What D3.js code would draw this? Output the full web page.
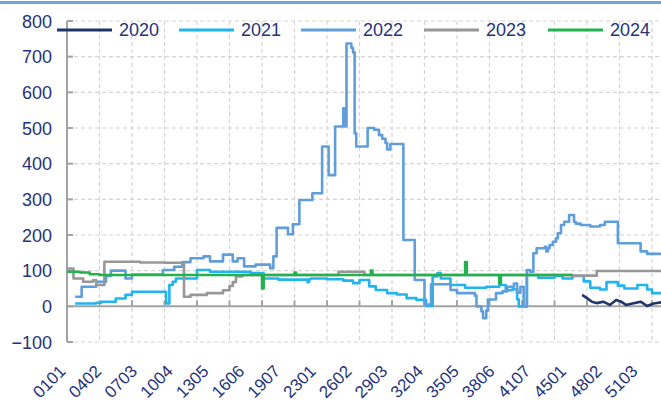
<!DOCTYPE html>
<html><head><meta charset="utf-8">
<script src="https://cdn.jsdelivr.net/npm/d3@7"></script>
<style>
body{margin:0;background:#fff}
svg{display:block}
text{font-family:"Liberation Sans",Arial,sans-serif}
</style>
</head><body>
<svg id="c" width="661" height="403"></svg>
<script>
// ---------- data ----------
const years = ["2020", "2021", "2022", "2023", "2024"];
const xLabels = ["0101","0402","0703","1004","1305","1606","1907","2301","2602","2903","3204","3505","3806","4107","4501","4802","5103"];
const yTicks = [-100, 0, 100, 200, 300, 400, 500, 600, 700, 800];

// step change points: day index (week*7+dow) and value
const days2020 = [317, 320, 323, 326, 330, 334, 338, 341, 344, 348, 353, 357, 361, 365, 370];
const vals2020 = [32, 23, 13, 9, 13, 4, 18, 13, 4, 8, 13, 1, 8, 11, 11];

const days2021 = [5, 18, 21, 30, 36, 40, 61, 63, 65, 67, 80, 88, 113, 121, 130, 148, 149, 150, 160, 170, 176, 180, 186, 190, 197, 203, 209, 215, 221, 225, 228, 230, 236, 245, 258, 266, 270, 274, 277, 278, 283, 290, 300, 305, 311, 318, 322, 328, 332, 339, 343, 351, 357, 360, 370];
const vals2021 = [8, 10, 13, 22, 32, 41, 8, 60, 69, 78, 102, 97, 93, 78, 75, 68, 76, 78, 76, 72, 65, 74, 56, 46, 37, 33, 23, 18, 1, 84, 93, 78, 60, 52, 55, 60, 45, 48, 20, 0, 88, 80, 85, 78, 85, 70, 52, 47, 68, 58, 50, 60, 47, 37, 37];

const days2022 = [5, 9, 18, 24, 27, 36, 40, 59, 66, 71, 76, 84, 88, 96, 102, 105, 109, 116, 125, 127, 129, 136, 139, 143, 151, 157, 161, 165, 170, 171, 172, 175, 176, 177, 178, 185, 189, 192, 194, 196, 197, 199, 207, 214, 220, 224, 236, 240, 251, 252, 255, 256, 258, 259, 264, 268, 271, 275, 277, 279, 281, 283, 285, 287, 289, 294, 295, 296, 297, 299, 301, 302, 304, 306, 309, 312, 313, 316, 322, 328, 331, 339, 353, 357, 370];
const vals2022 = [27, 55, 69, 85, 100, 78, 89, 102, 111, 124, 135, 140, 126, 145, 126, 135, 112, 117, 107, 140, 220, 202, 230, 298, 317, 448, 368, 504, 555, 504, 737, 725, 712, 485, 448, 500, 495, 480, 470, 458, 440, 455, 186, 74, 5, 62, 46, 37, 30, 0, -14, -33, -12, 19, 37, 42, 55, 64, 38, 55, 0, 102, 97, 149, 163, 167, 154, 163, 172, 181, 191, 205, 228, 237, 256, 237, 232, 228, 224, 228, 237, 177, 154, 147, 147];

const days2023 = [0, 4, 10, 16, 18, 23, 45, 60, 72, 76, 86, 96, 100, 102, 104, 108, 167, 183, 311, 326, 370];
const vals2023 = [106, 78, 69, 73, 60, 125, 123, 122, 27, 32, 37, 45, 57, 68, 84, 88, 97, 88, 86, 99, 99];

const days2024 = [0, 8, 14, 20, 120, 121, 140, 141, 187, 188, 245, 246, 266, 267, 311];
const vals2024 = [97, 95, 90, 88, 50, 88, 95, 88, 100, 88, 124, 88, 65, 88, 88];

// ---------- styles / layout ----------
const colors = {"2020": "#1f3468", "2021": "#22b4ee", "2022": "#5f9edb", "2023": "#979797", "2024": "#22b14c"};
const L = 67, T = 21, B = 342, pxPerDay = 1.625;
const textColor = "#25337a";
const gridColor = "#d4d4d4";
const axisColor = "#a3a3a3";

const seriesData = {
  "2020": d3.zip(days2020, vals2020),
  "2021": d3.zip(days2021, vals2021),
  "2022": d3.zip(days2022, vals2022),
  "2023": d3.zip(days2023, vals2023),
  "2024": d3.zip(days2024, vals2024)
};
const labelDays = xLabels.map(l => (+l.slice(0, 2) - 1) * 7 + (+l.slice(2) - 1));

const x = d3.scaleLinear().domain([0, 370]).range([L, L + 370 * pxPerDay]);
const y = d3.scaleLinear().domain([-100, 800]).range([B, T]);
const W = 661;

const svg = d3.select("#c");

// top border
svg.append("rect").attr("x", 0).attr("y", 1).attr("width", W).attr("height", 3).attr("fill", "#6aa5dc");

// horizontal grid
svg.append("g").selectAll("line").data(yTicks.filter(v => v !== 0)).join("line")
  .attr("x1", L).attr("x2", W).attr("y1", d => y(d)).attr("y2", d => y(d))
  .attr("stroke", gridColor).attr("stroke-width", 1.2).attr("stroke-dasharray", "4,3");

// vertical grid every 20 days
const gridDays = d3.range(20, 371, 20);
svg.append("g").selectAll("line").data(gridDays).join("line")
  .attr("x1", d => x(d)).attr("x2", d => x(d)).attr("y1", T).attr("y2", B)
  .attr("stroke", gridColor).attr("stroke-width", 1.2).attr("stroke-dasharray", "4,3");

// zero line
svg.append("line").attr("x1", L).attr("x2", W).attr("y1", y(0)).attr("y2", y(0))
  .attr("stroke", axisColor).attr("stroke-width", 2);
// x ticks (upwards)
svg.append("g").selectAll("line").data(gridDays).join("line")
  .attr("x1", d => x(d)).attr("x2", d => x(d)).attr("y1", y(0)).attr("y2", y(0) - 6)
  .attr("stroke", axisColor).attr("stroke-width", 2);

// y axis line and ticks
svg.append("line").attr("x1", L).attr("x2", L).attr("y1", T).attr("y2", B)
  .attr("stroke", axisColor).attr("stroke-width", 2);
svg.append("g").selectAll("line").data(yTicks).join("line")
  .attr("x1", L).attr("x2", L + 6).attr("y1", d => y(d)).attr("y2", d => y(d))
  .attr("stroke", axisColor).attr("stroke-width", 2);

// y labels
const yAxis = svg.append("g").attr("transform", `translate(${L},0)`)
  .call(d3.axisLeft(y).tickValues(yTicks).tickSize(0).tickPadding(15).tickFormat(d3.format("d")));
yAxis.select(".domain").remove();
yAxis.selectAll("text").attr("fill", textColor).style("font-size", "18px").attr("dy", "0.35em");

// x labels
const xAxis = svg.append("g").attr("transform", `translate(0,368)`)
  .call(d3.axisBottom(x).tickValues(labelDays).tickSize(0).tickFormat((d, i) => xLabels[i]));
xAxis.select(".domain").remove();
xAxis.selectAll("text")
  .attr("x", 0).attr("y", 0).attr("dy", "0.35em")
  .attr("text-anchor", "end")
  .attr("transform", "translate(-5,0) rotate(-45)")
  .attr("fill", textColor).style("font-size", "17px");

// series
years.forEach(yr => {
  const gen = d3.line().x(d => x(d[0])).y(d => y(d[1]))
    .curve(yr === "2020" ? d3.curveLinear : d3.curveStepAfter);
  svg.append("path").datum(seriesData[yr]).attr("d", gen)
    .attr("fill", "none").attr("stroke", colors[yr]).attr("stroke-width", 2.6)
    .attr("stroke-linejoin", "round");
});

// legend
const legX = [57, 179, 301, 424, 548];
const legY = 30;
const leg = svg.append("g");
years.forEach((yr, i) => {
  leg.append("line").attr("x1", legX[i]).attr("x2", legX[i] + 55).attr("y1", legY).attr("y2", legY)
    .attr("stroke", colors[yr]).attr("stroke-width", 3);
  leg.append("text").attr("x", legX[i] + 62).attr("y", legY).attr("dy", "0.35em")
    .attr("fill", textColor).style("font-size", "18px").text(yr);
});
</script>
</body></html>
